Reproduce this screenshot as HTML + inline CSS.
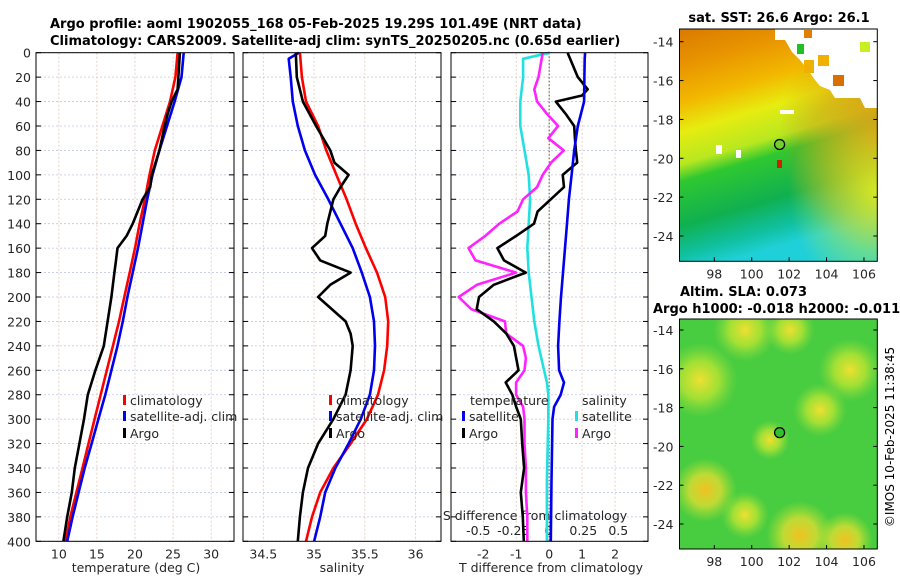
<!DOCTYPE html>
<html><head><meta charset="utf-8"><style>
body{margin:0;background:#fff;width:900px;height:580px;overflow:hidden}
svg{font-family:"DejaVu Sans","Liberation Sans",sans-serif}
</style></head><body>
<svg id="c" width="900" height="580" xmlns="http://www.w3.org/2000/svg">
<defs>
<linearGradient id="sstV" x1="0" y1="0" x2="0.25" y2="1">
<stop offset="0" stop-color="#d97a00"/><stop offset="0.15" stop-color="#e89400"/><stop offset="0.3" stop-color="#f2b800"/>
<stop offset="0.42" stop-color="#e6ec10"/><stop offset="0.55" stop-color="#b8e820"/><stop offset="0.62" stop-color="#30c830"/>
<stop offset="0.8" stop-color="#10b050"/><stop offset="0.92" stop-color="#10c0a0"/><stop offset="1" stop-color="#20d0d8"/>
</linearGradient>
<radialGradient id="orR" cx="1" cy="0.45" r="0.5"><stop offset="0" stop-color="#e07a10" stop-opacity="0.9"/><stop offset="1" stop-color="#e07a10" stop-opacity="0"/></radialGradient>
<radialGradient id="yelR" cx="1" cy="0.7" r="0.45"><stop offset="0" stop-color="#e0f020" stop-opacity="0.9"/><stop offset="1" stop-color="#e0f020" stop-opacity="0"/></radialGradient>
<radialGradient id="blobY"><stop offset="0" stop-color="#f0e030"/><stop offset="0.5" stop-color="#c8e830" stop-opacity="0.7"/><stop offset="1" stop-color="#90e040" stop-opacity="0"/></radialGradient>
<radialGradient id="blobO"><stop offset="0" stop-color="#f0c020"/><stop offset="0.5" stop-color="#f0e030" stop-opacity="0.7"/><stop offset="1" stop-color="#c0e830" stop-opacity="0"/></radialGradient>
</defs>
</svg>
<script>
// ---- data (depth in dbar) ----
const depthT = [0,20,40,60,80,100,120,140,160,180,200,220,240,260,280,300,320,340,360,380,400];
const tempClim = [25.6,25.3,24.6,23.6,22.6,21.9,21.3,20.6,20.0,19.3,18.6,17.9,17.1,16.3,15.5,14.7,13.9,13.1,12.3,11.5,10.9];
const tempSat  = [26.4,26.1,25.2,24.2,23.2,22.3,21.6,21.0,20.4,19.7,19.0,18.4,17.7,16.9,16.1,15.2,14.3,13.4,12.6,11.8,11.1];
const depthArgo = [0,30,40,50,60,80,100,110,120,140,150,160,170,180,200,220,240,260,280,300,320,340,360,380,400];
const tempArgo = [25.9,25.6,24.8,24.3,23.9,23.2,22.2,22.0,21.0,19.7,18.9,17.7,17.5,17.3,16.9,16.4,15.9,14.8,13.8,13.3,12.7,12.1,11.7,11.1,10.6];
const salClim = [34.86,34.88,34.92,35.04,35.12,35.22,35.32,35.41,35.51,35.62,35.70,35.73,35.72,35.69,35.63,35.52,35.36,35.19,35.06,34.98,34.92];
const depthSalSat = [0,5,20,40,60,80,100,120,140,160,180,200,220,240,260,280,300,320,340,360,380,400];
const salSat = [34.85,34.75,34.77,34.79,34.84,34.91,35.01,35.14,35.26,35.38,35.47,35.55,35.59,35.60,35.59,35.55,35.46,35.34,35.21,35.11,35.06,35.00];
const depthSalArgo = [0,20,40,60,80,90,100,110,120,140,150,160,170,180,190,200,220,230,240,260,280,300,320,340,360,380,400];
const salArgo = [34.82,34.83,34.89,35.02,35.16,35.20,35.34,35.26,35.19,35.13,35.11,34.98,35.06,35.36,35.16,35.04,35.31,35.36,35.38,35.36,35.31,35.19,35.04,34.94,34.89,34.86,34.84];
const depthD = [0,20,30,35,40,50,60,70,80,90,100,110,120,130,140,150,160,170,180,190,200,210,220,230,240,250,260,270,280,290,300,320,340,360,380,400];
const dTArgo = [0.56,0.87,1.17,1.0,0.2,0.5,0.76,0.78,0.81,0.85,0.41,0.45,0.05,-0.35,-0.46,-1.0,-1.57,-1.37,-0.71,-1.68,-2.13,-2.2,-1.68,-1.3,-1.07,-1.0,-0.93,-1.32,-1.12,-1.0,-0.86,-0.82,-0.76,-0.86,-0.8,-0.77];
const dSArgo = [-0.04,-0.07,-0.1,-0.09,-0.08,-0.01,0.07,0.0,0.11,0.02,-0.04,-0.08,-0.18,-0.22,-0.35,-0.45,-0.57,-0.52,-0.23,-0.51,-0.64,-0.55,-0.31,-0.3,-0.18,-0.16,-0.17,-0.23,-0.23,-0.18,-0.17,-0.17,-0.16,-0.16,-0.15,-0.15];
const depthDSat = [0,5,20,40,60,80,100,120,140,160,180,200,220,240,260,270,280,290,300,350,400];
const dTSat = [1.09,1.08,1.07,1.06,0.87,0.76,0.68,0.6,0.54,0.48,0.42,0.36,0.31,0.27,0.3,0.45,0.35,0.15,0.1,0.07,0.05];
const dSSat = [0.01,-0.18,-0.18,-0.2,-0.2,-0.17,-0.14,-0.13,-0.14,-0.15,-0.14,-0.12,-0.1,-0.07,-0.03,-0.01,0.0,0.0,0.0,-0.01,-0.01];
const depthTicks = [0,20,40,60,80,100,120,140,160,180,200,220,240,260,280,300,320,340,360,380,400];
const tTicks = [10,15,20,25,30];
const sTicks = [34.5,35,35.5,36];
const dTTicks = [-2,-1,0,1,2];
const dSTicks = [-0.5,-0.25,0,0.25,0.5];
const lonTicks = [98,100,102,104,106];
const latTicks = [-14,-16,-18,-20,-22,-24];

const svg = document.getElementById('c');
const NS = 'http://www.w3.org/2000/svg';
function mk(tag, attrs, parent){const e=document.createElementNS(NS,tag);for(const k in attrs)e.setAttribute(k,attrs[k]);(parent||svg).appendChild(e);return e;}
function txt(s,x,y,o,parent){const e=mk('text',Object.assign({x:x,y:y,'font-size':12.5,fill:'#262626'},o||{}),parent);e.textContent=s;return e;}

const Y0=52.7, Y1=541.3;
const yD = d => Y0 + d*(Y1-Y0)/400;
const panels = [
 {name:'temperature-panel',x0:36,x1:234,v0:7,v1:33},
 {name:'salinity-panel',x0:243,x1:441,v0:34.3,v1:36.25},
 {name:'difference-panel',x0:451,x1:648,v0:-2.98,v1:3.0}
];
const xP = (p,v) => p.x0 + (v-p.v0)*(p.x1-p.x0)/(p.v1-p.v0);
const xS = v => 548.3 + v*140;

panels.forEach((p,i)=>{
  const g=mk('g',{});
  
  
  mk('rect',{x:p.x0,y:Y0,width:p.x1-p.x0,height:Y1-Y0,fill:'#fff'},g);
  depthTicks.forEach(d=>{
    mk('line',{x1:p.x0,x2:p.x1,y1:yD(d),y2:yD(d),stroke:'#c0c6e6','stroke-width':0.8,'stroke-dasharray':'2,2'},g);
    mk('line',{x1:p.x0,x2:p.x0+5,y1:yD(d),y2:yD(d),stroke:'#000'},g);
    mk('line',{x1:p.x1-5,x2:p.x1,y1:yD(d),y2:yD(d),stroke:'#000'},g);
  });
  const ticks = i===0?tTicks:i===1?sTicks:dTTicks;
  ticks.forEach(v=>{
    const x=xP(p,v);
    mk('line',{x1:x,x2:x,y1:Y0,y2:Y1,stroke:'#e0c8b8','stroke-width':0.8,'stroke-dasharray':'2,2'},g);
    const t=txt(String(v),x,Y1+17,{'text-anchor':'middle'});
    
    
  });
});
depthTicks.forEach(d=>{
  const t=txt(String(d),31,yD(d)+5,{'text-anchor':'end'});
  
  
});
dSTicks.forEach(v=>{
  const t=txt(String(v),xS(v),535,{'text-anchor':'middle'});
  
  
});
let t;
t=txt('S difference from climatology',535,520,{'text-anchor':'middle'});

t=txt('temperature (deg C)',136,572,{'text-anchor':'middle'});

t=txt('salinity',342,572,{'text-anchor':'middle'});

t=txt('T difference from climatology',551,572,{'text-anchor':'middle'});

const zl=mk('line',{x1:xP(panels[2],0),x2:xP(panels[2],0),y1:Y0,y2:Y1,stroke:'#555530','stroke-width':1,'stroke-dasharray':'1.5,2'});


function line(name,xs,ds,fx,color){
  const pts=xs.map((v,k)=>fx(v).toFixed(1)+','+yD(ds[k]).toFixed(1)).join(' ');
  const e=mk('polyline',{points:pts,fill:'none',stroke:color,'stroke-width':2.6,'stroke-linejoin':'round'});
  
  
}
const P=panels;
line('temp-climatology-line',tempClim,depthT,v=>xP(P[0],v),'#ff0000');
line('temp-satellite-line',tempSat,depthT,v=>xP(P[0],v),'#0000ee');
line('temp-argo-line',tempArgo,depthArgo,v=>xP(P[0],v),'#000');
line('sal-climatology-line',salClim,depthT,v=>xP(P[1],v),'#ff0000');
line('sal-satellite-line',salSat,depthSalSat,v=>xP(P[1],v),'#0000ee');
line('sal-argo-line',salArgo,depthSalArgo,v=>xP(P[1],v),'#000');
line('dsal-satellite-line',dSSat,depthDSat,xS,'#22e0e0');
line('dsal-argo-line',dSArgo,depthD,xS,'#ff22ff');
line('dtemp-argo-line',dTArgo,depthD,v=>xP(P[2],v),'#000');
line('dtemp-satellite-line',dTSat,depthDSat,v=>xP(P[2],v),'#0000ee');

panels.forEach(p=>{mk('rect',{x:p.x0,y:Y0,width:p.x1-p.x0,height:Y1-Y0,fill:'none',stroke:'#000','stroke-width':1});});

function leg(name,x,y,color,label){
  const g=mk('g',{});
  
  
  mk('rect',{x:x,y:y-10,width:3,height:10,fill:color},g);
  txt(label,x+7,y,{},g);
}
leg('legend-climatology',123,405,'#ff0000','climatology');
leg('legend-satellite-clim',123,421,'#0000ee','satellite-adj. clim');
leg('legend-argo',123,438,'#000','Argo');
leg('legend-sal-climatology',329,405,'#ff0000','climatology');
leg('legend-sal-satellite',329,421,'#0000ee','satellite-adj. clim');
leg('legend-sal-argo',329,438,'#000','Argo');
t=txt('temperature',470,405,{});
t=txt('salinity',582,405,{});
leg('legend-dtemp-satellite',462,421,'#0000ee','satellite');
leg('legend-dtemp-argo',462,438,'#000','Argo');
leg('legend-dsal-satellite',575,421,'#22e0e0','satellite');
leg('legend-dsal-argo',575,438,'#ff22ff','Argo');

t=txt('Argo profile: aoml 1902055_168 05-Feb-2025 19.29S 101.49E (NRT data)',50,28,{'font-size':13,'font-weight':'bold',fill:'#000'});

t=txt('Climatology: CARS2009. Satellite-adj clim: synTS_20250205.nc (0.65d earlier)',50,45,{'font-size':13,'font-weight':'bold',fill:'#000'});


const MX0=679.5, MX1=877.3;
const lonX = lon => 714.3 + (lon-98)*18.71;
function drawMap(name,y0,y1,latY,kind){
  const g=mk('g',{});
  
  
  const cp=mk('clipPath',{id:'clip'+kind},g);
  mk('rect',{x:MX0,y:y0,width:MX1-MX0,height:y1-y0},cp);
  const inner=mk('g',{'clip-path':'url(#clip'+kind+')'},g);
  const w=MX1-MX0,h=y1-y0;
  if(kind==='sst'){
    mk('rect',{x:MX0,y:y0,width:w,height:h,fill:'url(#sstV)'},inner);
    mk('rect',{x:MX0,y:y0,width:w,height:h,fill:'url(#orR)'},inner);
    mk('rect',{x:MX0,y:y0,width:w,height:h,fill:'url(#yelR)'},inner);
    mk('path',{d:`M775 29 L877 29 L877 108 L865 108 L860 98 L835 98 L830 90 L820 86 L815 80 L808 70 L800 60 L792 52 L785 40 L775 40 Z`,fill:'#fff'},inner);
    mk('rect',{x:804,y:60,width:10,height:13,fill:'#f0b000'},inner);
    mk('rect',{x:818,y:55,width:11,height:11,fill:'#f0b000'},inner);
    mk('rect',{x:833,y:75,width:11,height:11,fill:'#d87000'},inner);
    mk('rect',{x:860,y:42,width:10,height:10,fill:'#c8f020'},inner);
    mk('rect',{x:797,y:44,width:7,height:10,fill:'#20c020'},inner);
    mk('rect',{x:804,y:30,width:8,height:8,fill:'#e08000'},inner);
    mk('rect',{x:780,y:110,width:14,height:4,fill:'#fff'},inner);
    mk('rect',{x:716,y:145,width:6,height:9,fill:'#fff'},inner);
    mk('rect',{x:736,y:150,width:5,height:8,fill:'#fff'},inner);
    mk('rect',{x:777,y:160,width:5,height:8,fill:'#d02000'},inner);
  } else {
    mk('rect',{x:MX0,y:y0,width:w,height:h,fill:'#48cc40'},inner);
    [[700,380,38,'blobY'],[745,330,32,'blobY'],[790,330,25,'blobY'],[850,370,32,'blobY'],[820,410,27,'blobY'],[705,490,32,'blobO'],[745,515,24,'blobY'],[800,535,34,'blobO'],[845,540,28,'blobO'],[770,440,20,'blobY']].forEach(b=>{
      mk('circle',{cx:b[0],cy:b[1],r:b[2],fill:'url(#'+b[3]+')'},inner);
    });
  }
  mk('rect',{x:MX0,y:y0,width:w,height:h,fill:'none',stroke:'#000'},g);
  lonTicks.forEach(l=>{
    const x=lonX(l);
    mk('line',{x1:x,x2:x,y1:y1,y2:y1-4,stroke:'#000'},g);
    txt(String(l),x,y1+17,{'text-anchor':'middle'},g);
  });
  latTicks.forEach(l=>{
    const y=latY(l);
    mk('line',{x1:MX0,x2:MX0+4,y1:y,y2:y,stroke:'#000'},g);
    mk('line',{x1:MX1-4,x2:MX1,y1:y,y2:y,stroke:'#000'},g);
    txt(String(l),653,y+5,{},g);
  });
  const lat=-19.29, lon=101.49;
  const m=mk('circle',{cx:lonX(lon),cy:latY(lat),r:5,fill:kind==='sst'?'#70d030':'#30c030',stroke:'#000','stroke-width':1.3},g);
  
  
}
drawMap('sst-map',29,261.3,l=>41.7+(-14-l)*19.43,'sst');
drawMap('sla-map',319,549,l=>330+(-14-l)*19.4,'sla');
t=txt('sat. SST: 26.6 Argo: 26.1',779,22,{'font-size':13,'font-weight':'bold',fill:'#000','text-anchor':'middle'});

t=txt('Altim. SLA: 0.073',680,296,{'font-size':13,'font-weight':'bold',fill:'#000'});

t=txt('Argo h1000: -0.018 h2000: -0.011',653,313,{'font-size':13,'font-weight':'bold',fill:'#000'});

t=txt('©IMOS 10-Feb-2025 11:38:45',0,0,{'font-size':12,fill:'#000','text-anchor':'middle',transform:'translate(894,437) rotate(-90)'});

</script>
</body></html>
